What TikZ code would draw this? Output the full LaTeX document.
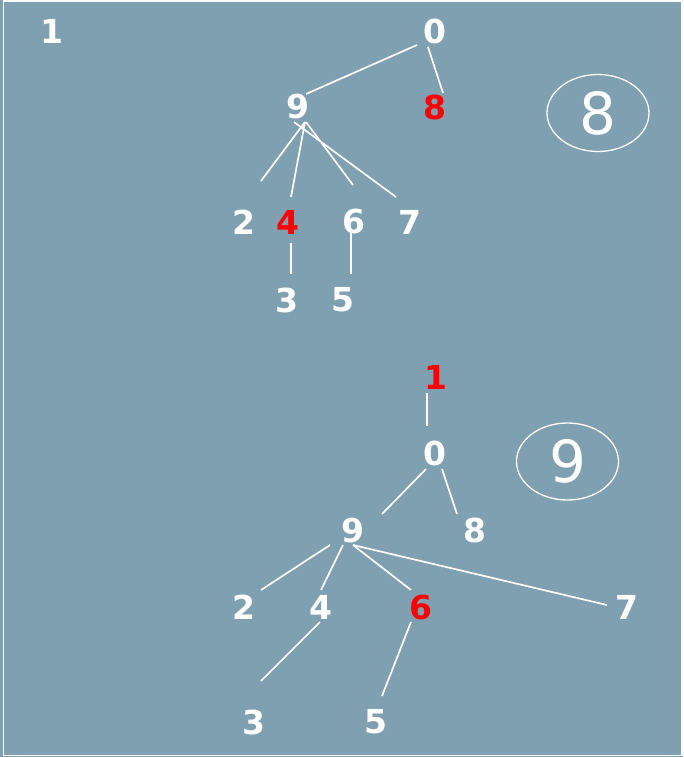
\documentclass[tikz,border=0pt]{standalone}
\usepackage{fontspec}
\setmainfont{DejaVu Sans}
\usetikzlibrary{calc,shapes.geometric}
\definecolor{panelbg}{RGB}{127,160,176}
\definecolor{hired}{RGB}{255,0,0}
\tikzset{
  num/.style={text=white, inner sep=0pt, font=\bfseries\fontsize{33}{33}\selectfont},
  hot/.style={num, text=hired},
  edge/.style={draw=white, line width=1.7pt},
  badge/.style={draw=white, line width=1.3pt, ellipse, minimum width=102pt, minimum height=77pt, inner sep=0pt,
    text=white, font=\fontsize{58}{58}\selectfont}
}
\begin{document}
\begin{tikzpicture}[x=1pt,y=-1pt]
\useasboundingbox (0,0) rectangle (683,757);
\fill[panelbg] (0,0) rectangle (683,757);
\draw[white, line width=1.2pt] (3.5,1) rectangle (682,755.5);
\draw[white, line width=1.6pt] (3.5,1) -- (3.5,755.5);

% upper forest
\node[num] (a1) at (52,31) {1};
\node[num] (a0) at (435,31) {0};
\node[num] (a9) at (298,107) {9};
\node[hot] (a8) at (435,107) {8};
\node[num] (a2) at (244,222) {2};
\node[hot] (a4) at (288,222) {4};
\node[num] (a6) at (354,222) {6};
\node[num] (a7) at (410,222) {7};
\node[num] (a3) at (287,300) {3};
\node[num] (a5) at (343,300) {5};
\node[badge] (e8) at (598,113) {8};

\draw[edge] ($(a0)+(-18,14)$) -- ($(a9)+(8,-13)$);
\draw[edge] ($(a0)+(-7,16)$) -- ($(a8)+(8,-14)$);
\draw[edge] ($(a9)+(7,15)$) -- ($(a2)+(17,-41)$);
\draw[edge] ($(a9)+(7,15)$) -- ($(a4)+(3,-25)$);
\draw[edge] ($(a9)+(8,15)$) -- ($(a6)+(-1,-37)$);
\draw[edge] ($(a9)+(-4,15)$) -- ($(a7)+(-14,-25)$);
\draw[edge] ($(a4)+(3,21)$) -- ($(a3)+(4,-26)$);
\draw[edge] ($(a6)+(-3,10)$) -- ($(a5)+(8,-26)$);

% lower tree
\node[hot] (b1) at (436,377) {1};
\node[num] (b0) at (435,453) {0};
\node[num] (b9) at (353,530) {9};
\node[num] (b8) at (475,530) {8};
\node[num] (b2) at (244,607) {2};
\node[num] (b4) at (321,607) {4};
\node[hot] (b6) at (421,607) {6};
\node[num] (b7) at (627,607) {7};
\node[num] (b3) at (254,722) {3};
\node[num] (b5) at (376,722) {5};
\node[badge] (e9) at (567.5,461.5) {9};

\draw[edge] ($(b1)+(-9,16)$) -- ($(b0)+(-8,-27)$);
\draw[edge] ($(b0)+(-9,16)$) -- ($(b9)+(29,-16)$);
\draw[edge] ($(b0)+(7,16)$) -- ($(b8)+(-18,-16)$);
\draw[edge] ($(b9)+(-23,15)$) -- ($(b2)+(17,-17)$);
\draw[edge] ($(b9)+(-10,15)$) -- ($(b4)+(0,-17)$);
\draw[edge] ($(b9)+(0,15)$) -- ($(b6)+(-10,-17)$);
\draw[edge] ($(b9)+(0,15)$) -- ($(b7)+(-20,-2)$);
\draw[edge] ($(b4)+(-1,15)$) -- ($(b3)+(7,-41)$);
\draw[edge] ($(b6)+(-10,15)$) -- ($(b5)+(6,-26)$);
\end{tikzpicture}
\end{document}
